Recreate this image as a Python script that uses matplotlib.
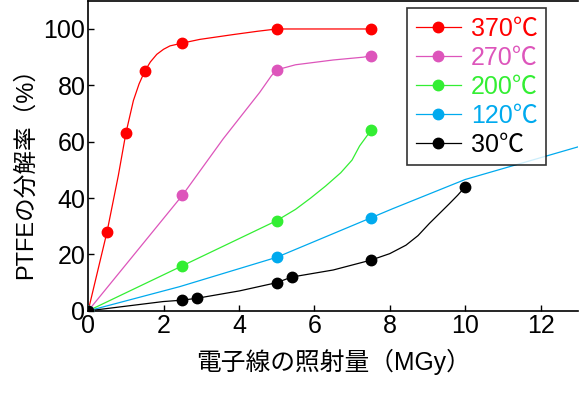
import matplotlib.pyplot as plt
from matplotlib.lines import Line2D

plt.rcParams['font.family'] = ['Liberation Sans', 'Noto Sans CJK JP', 'DejaVu Sans']

# ---- measured points (markers) ----
dose_370 = [0, 0.5, 1.0, 1.5, 2.5, 5.0, 7.5]
rate_370 = [0, 28, 63, 85, 95, 100, 100]
dose_270 = [0, 2.5, 5.0, 7.5]
rate_270 = [0, 41, 85.5, 90.5]
dose_200 = [0, 2.5, 5.0, 7.5]
rate_200 = [0, 16, 32, 64]
dose_120 = [0, 5.0, 7.5]
rate_120 = [0, 19, 33]
dose_30 = [0, 2.5, 2.9, 5.0, 5.4, 7.5, 10.0]
rate_30 = [0, 3.8, 4.5, 10, 12, 18, 44]

# ---- continuous traces (lines) ----
trace_x_370 = [0, 0.5, 0.8, 1.0, 1.2, 1.35, 1.5, 1.65, 1.82, 2.0, 2.17, 2.5, 2.96, 3.84, 4.5, 5.0, 7.5]
trace_y_370 = [0, 28, 48, 63, 74.6, 80.5, 85, 88.3, 91, 92.8, 94, 95, 96.3, 98, 99.2, 100, 100]
trace_x_270 = [0, 2.5, 3.58, 4.55, 4.86, 5.0, 5.5, 6.5, 7.3, 7.5]
trace_y_270 = [0, 41, 61, 77.5, 83.4, 85.5, 87.3, 89, 90, 90.5]
trace_x_200 = [0, 2.5, 5.0, 5.5, 5.9, 6.3, 6.7, 7.0, 7.2, 7.5]
trace_y_200 = [0, 16, 32, 36, 40, 44.3, 49, 53.5, 58.5, 64]
trace_x_120 = [0, 2.43, 5.0, 7.5, 8.07, 10.0, 13.0]
trace_y_120 = [0, 8.6, 19, 33, 36.2, 46.6, 58.2]
trace_x_30 = [0, 1.99, 2.5, 2.9, 4.02, 5.0, 5.4, 6.5, 7.5, 8.0, 8.43, 8.75, 9.05, 9.3, 9.58, 9.8, 10.0]
trace_y_30 = [0, 3.3, 3.8, 4.5, 7.1, 10, 12, 14.5, 18, 20.3, 23.3, 26.7, 31, 34.3, 38, 41, 44]

labels = ['370℃', '270℃', '200℃', '120℃', '30℃']
colors = ['#ff0000', '#dd55bb', '#33ee33', '#00aaee', '#000000']

series = [
    (trace_x_370, trace_y_370, dose_370, rate_370),
    (trace_x_270, trace_y_270, dose_270, rate_270),
    (trace_x_200, trace_y_200, dose_200, rate_200),
    (trace_x_120, trace_y_120, dose_120, rate_120),
    (trace_x_30, trace_y_30, dose_30, rate_30),
]

fig = plt.figure(figsize=(5.8, 3.93), dpi=100)
ax = fig.add_axes([0.152, 0.209, 0.845, 0.789])

handles = []
for (tx, ty, mx, my), c, lab in zip(series, colors, labels):
    ax.plot(tx, ty, color=c, lw=0.9, zorder=2)
    ax.plot(mx, my, 'o', color=c, ms=7.5, zorder=3)
    handles.append(Line2D([], [], color=c, lw=0.9, marker='o', ms=7.5, label=lab))

ax.set_xlim(0, 13)
ax.set_ylim(0, 110)
ax.set_xticks([0, 2, 4, 6, 8, 10, 12])
ax.set_yticks([0, 20, 40, 60, 80, 100])
ax.tick_params(direction='in', length=4.5, width=1, labelsize=18, pad=2)
ax.spines['right'].set_visible(False)
for s in ['left', 'bottom', 'top']:
    ax.spines[s].set_linewidth(1.2)

ax.set_xlabel('電子線の照射量（MGy）', fontsize=17.8, labelpad=8)
ax.set_ylabel('PTFEの分解率（%）', fontsize=17, labelpad=6)
ax.yaxis.set_label_coords(-0.104, 0.461)

leg = ax.legend(handles=handles, loc='upper right', bbox_to_anchor=(0.935, 0.977),
                fontsize=18, frameon=True, fancybox=False, edgecolor='black',
                handlelength=1.8, handletextpad=0.4, labelspacing=0.2,
                borderpad=0.35, borderaxespad=0)
leg.get_frame().set_linewidth(1.2)
for txt, c in zip(leg.get_texts(), colors):
    txt.set_color(c)

fig.savefig('out.png', dpi=100)
